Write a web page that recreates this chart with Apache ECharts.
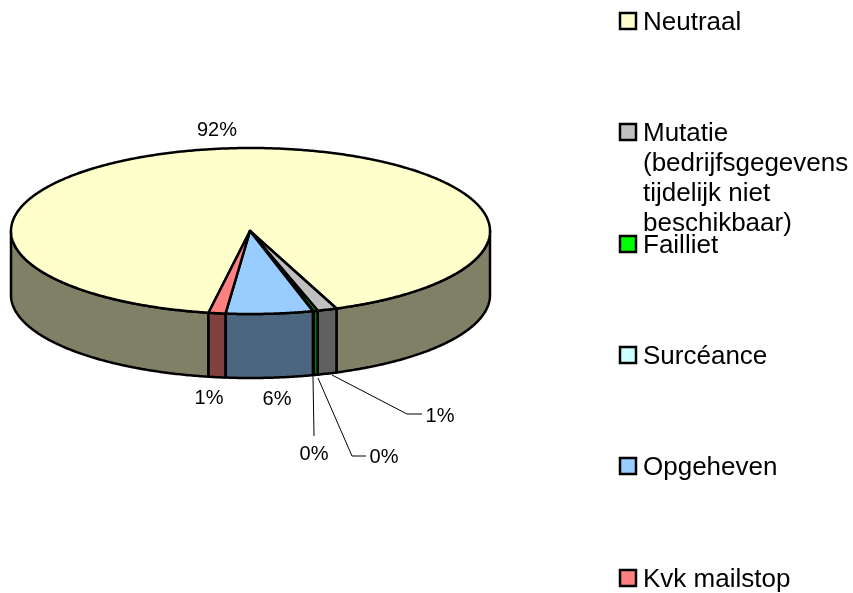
<!DOCTYPE html>
<html>
<head>
<meta charset="utf-8">
<title>Pie</title>
<script src="https://cdn.jsdelivr.net/npm/echarts@6/dist/echarts.min.js"></script>
<style>
    html, body { margin: 0; padding: 0; background: #fff; }
    #chart { width: 853px; height: 593px; }
</style>
</head>
<body>
<div id="chart"></div>
<script>
var categories = ['Neutraal', 'Mutatie\n(bedrijfsgegevens\ntijdelijk niet\nbeschikbaar)', 'Failliet', 'Surcéance', 'Opgeheven', 'Kvk mailstop'];
var shares = [91.35, 1.32, 0.28, 0.05, 5.86, 1.14];
var shareLabels = ['92%', '1%', '0%', '0%', '6%', '1%'];
var topColors = ['#FFFFCC', '#C0C0C0', '#00FF00', '#CCFFFF', '#99CCFF', '#FF8080'];
var wallColors = ['#808066', '#606060', '#008000', '#668080', '#4D6680', '#804040'];

// where the labels sit, same order as categories
var labelPos = [[217, 130], [440, 416], [384, 457], [314, 454], [277, 399], [209, 398]];
var leaderLines = [
    [[332, 375], [407, 414], [422, 414]],
    [[318, 378], [352, 456], [366, 456]],
    [[313, 377], [314, 436]]
];
var legendY = [21, 132, 244, 355, 466, 578];

var cx = 250.5, cy = 231, rx = 239.5, ry = 83, depth = 64;
var startAngle = 190.1;
var lineW = 2.5;

// slice start / end in degrees, clockwise from the top of the ellipse
var total = shares.reduce(function (a, b) { return a + b; }, 0);
var angles = [];
var acc = startAngle;
shares.forEach(function (v) {
    var next = acc + v / total * 360;
    angles.push([acc, next]);
    acc = next;
});

function pt(deg, dy) {
    var r = deg * Math.PI / 180;
    return [cx + rx * Math.sin(r), cy - ry * Math.cos(r) + (dy || 0)];
}

function arcPoints(a, b, dy) {
    var pts = [];
    var n = Math.max(2, Math.ceil((b - a) * 2));
    for (var i = 0; i <= n; i++) {
        pts.push(pt(a + (b - a) * i / n, dy));
    }
    return pts;
}

function polygon(points, fill) {
    return {
        type: 'polygon',
        shape: { points: points },
        style: { fill: fill, stroke: '#000', lineWidth: lineW, lineJoin: 'round' }
    };
}

function renderWall(params) {
    var i = params.dataIndex;
    var children = [];
    // only the part of the rim that faces the viewer, 90..270 degrees
    [0, 360].forEach(function (k) {
        var a = Math.max(angles[i][0], 90 + k);
        var b = Math.min(angles[i][1], 270 + k);
        if (b > a) {
            var upper = arcPoints(a, b, 0);
            var lower = arcPoints(a, b, depth).reverse();
            children.push(polygon(upper.concat(lower), wallColors[i]));
        }
    });
    return { type: 'group', children: children };
}

function renderTop(params) {
    var i = params.dataIndex;
    var pts = arcPoints(angles[i][0], angles[i][1], 0);
    pts.push([250, cy]);
    return polygon(pts, topColors[i]);
}

var graphics = [];
categories.forEach(function (name, i) {
    graphics.push({
        type: 'rect',
        shape: { x: 620, y: legendY[i] - 8, width: 16, height: 16 },
        style: { fill: topColors[i], stroke: '#000', lineWidth: 2.5 }
    });
    graphics.push({
        type: 'text',
        x: 643,
        y: legendY[i] - 13,
        style: {
            text: name,
            fill: '#000',
            font: '26px "Liberation Sans"',
            lineHeight: 30,
            verticalAlign: 'top'
        }
    });
    graphics.push({
        type: 'text',
        x: labelPos[i][0],
        y: labelPos[i][1],
        style: {
            text: shareLabels[i],
            fill: '#000',
            font: '20px "Liberation Sans"',
            align: 'center',
            verticalAlign: 'middle'
        }
    });
});
leaderLines.forEach(function (points) {
    graphics.push({
        type: 'polyline',
        shape: { points: points },
        style: { fill: null, stroke: '#000', lineWidth: 1 }
    });
});

var option = {
    animation: false,
    graphic: graphics,
    series: [
        {
            type: 'custom',
            coordinateSystem: 'none',
            silent: true,
            renderItem: renderWall,
            data: shares
        },
        {
            type: 'custom',
            coordinateSystem: 'none',
            silent: true,
            renderItem: renderTop,
            data: shares
        }
    ]
};

var myChart = echarts.init(document.getElementById('chart'));
myChart.setOption(option);
</script>
</body>
</html>
